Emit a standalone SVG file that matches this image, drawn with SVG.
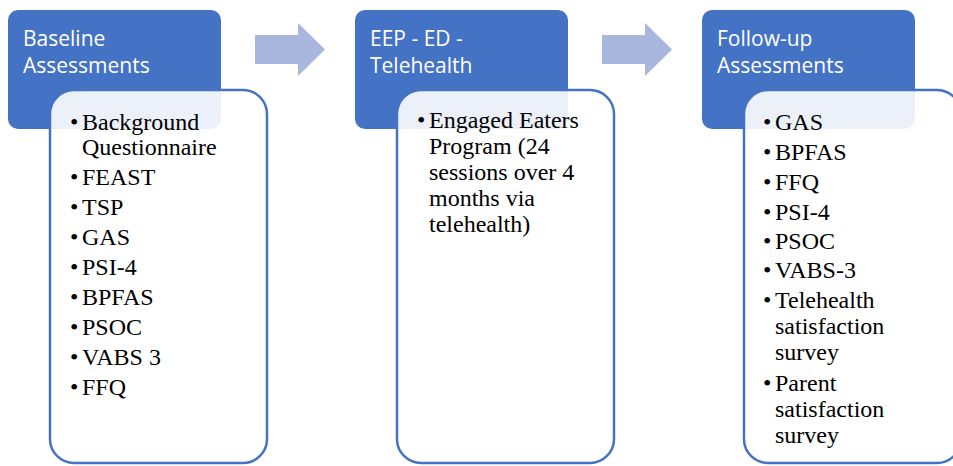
<svg xmlns="http://www.w3.org/2000/svg" width="953" height="466" viewBox="0 0 953 466">
<style>
.head{fill:#4472C4;}
.card{fill:#ffffff;fill-opacity:0.9;stroke:#4472C4;stroke-width:2.5;}
.arrow{fill:#A9B6DD;}
.ht{font-family:"Open Sans","Liberation Sans",sans-serif;font-size:21px;fill:#ffffff;}
.bt{font-family:"Liberation Serif","Times New Roman",serif;font-size:24px;fill:#000000;}
</style>
<rect width="953" height="466" fill="#ffffff"/>
<g id="connectors">
<path class="arrow" d="M255,35 H298 V23 L325,49.5 L298,76 V64 H255 Z"/>
<path class="arrow" d="M602,35 H645 V23 L672,49.5 L645,76 V64 H602 Z"/>
</g>
<g id="baseline">
<rect class="head" x="8" y="10" width="213" height="119" rx="10"/>
<text class="ht" x="23" y="46">Baseline</text>
<text class="ht" x="23" y="73">Assessments</text>
<rect class="card" x="50" y="90" width="217" height="373" rx="24"/>
<g class="bt">
<text x="70" y="130">•</text><text x="82" y="130">Background</text>
<text x="82" y="155">Questionnaire</text>
<text x="70" y="185">•</text><text x="82" y="185">FEAST</text>
<text x="70" y="215">•</text><text x="82" y="215">TSP</text>
<text x="70" y="245">•</text><text x="82" y="245">GAS</text>
<text x="70" y="275">•</text><text x="82" y="275">PSI-4</text>
<text x="70" y="305">•</text><text x="82" y="305">BPFAS</text>
<text x="70" y="335">•</text><text x="82" y="335">PSOC</text>
<text x="70" y="365">•</text><text x="82" y="365">VABS 3</text>
<text x="70" y="395">•</text><text x="82" y="395">FFQ</text>
</g>
</g>
<g id="intervention">
<rect class="head" x="355" y="10" width="213" height="119" rx="10"/>
<text class="ht" x="370" y="46">EEP - ED -</text>
<text class="ht" x="370" y="73">Telehealth</text>
<rect class="card" x="397" y="90" width="217" height="373" rx="24"/>
<g class="bt">
<text x="417" y="128">•</text><text x="429" y="128">Engaged Eaters</text>
<text x="429" y="154">Program (24</text>
<text x="429" y="180">sessions over 4</text>
<text x="429" y="206">months via</text>
<text x="429" y="232">telehealth)</text>
</g>
</g>
<g id="followup">
<rect class="head" x="702" y="10" width="213" height="119" rx="10"/>
<text class="ht" x="717" y="46">Follow-up</text>
<text class="ht" x="717" y="73">Assessments</text>
<rect class="card" x="744" y="90" width="217" height="373" rx="24"/>
<g class="bt">
<text x="763" y="130">•</text><text x="775" y="130">GAS</text>
<text x="763" y="160">•</text><text x="775" y="160">BPFAS</text>
<text x="763" y="190">•</text><text x="775" y="190">FFQ</text>
<text x="763" y="220">•</text><text x="775" y="220">PSI-4</text>
<text x="763" y="249">•</text><text x="775" y="249">PSOC</text>
<text x="763" y="278">•</text><text x="775" y="278">VABS-3</text>
<text x="763" y="308">•</text><text x="775" y="308">Telehealth</text>
<text x="775" y="334">satisfaction</text>
<text x="775" y="360">survey</text>
<text x="763" y="391">•</text><text x="775" y="391">Parent</text>
<text x="775" y="417">satisfaction</text>
<text x="775" y="443">survey</text>
</g>
</g>
</svg>
